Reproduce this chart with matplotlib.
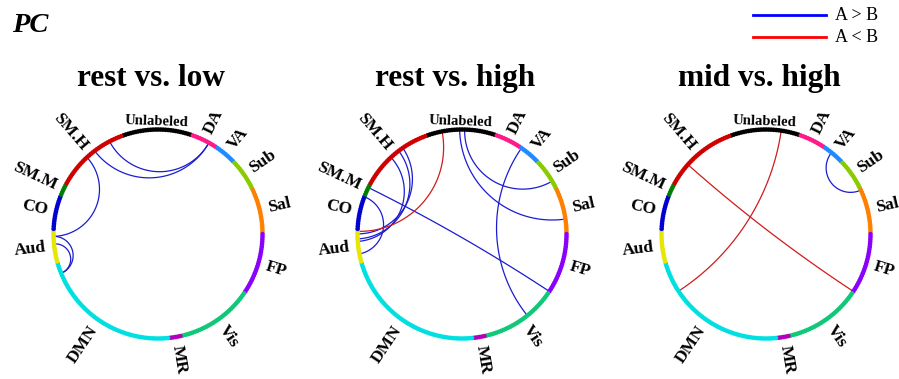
import numpy as np
import matplotlib.pyplot as plt
from matplotlib.lines import Line2D

plt.rcParams['font.family'] = ['Liberation Serif', 'DejaVu Serif']

# network modules (Power atlas order, clockwise from the top)
modules = ["Unlabeled", "DA", "VA", "Sub", "Sal", "FP", "Vis", "MR", "DMN",
           "Aud", "CO", "SM.M", "SM.H"]
sizes = [28, 11, 9, 13, 18, 25, 31, 5, 58, 13, 14, 5, 30]
mod_colors = ["#000000", "#ff1a8c", "#1e8cff", "#88cc00", "#ff8000", "#8a00ff",
              "#10c878", "#b000c0", "#00e0e0", "#e6e600", "#0000d0", "#008000",
              "#d00000"]

titles = ["rest vs. low", "rest vs. high", "mid vs. high"]

# significant edges as (node, node), A > B and A < B
pos_edges = [
    [(35, 254), (35, 247), (208, 243), (208, 193), (205, 193)],
    [(249, 209), (247, 207), (243, 206), (224, 201), (228, 103),
     (13, 73), (15, 57), (39, 116)],
    [(42, 61)],
]
neg_edges = [
    [],
    [(6, 210)],
    [(20, 185), (239, 103)],
]

n_nodes = sum(sizes)
step = 360.0 / n_nodes
start = 110.0
node_ang = start - (np.arange(n_nodes) + 0.5) * step
node_col = np.repeat(mod_colors, sizes)
bounds = np.concatenate([[0], np.cumsum(sizes)])

W, H = 899, 379
R_PX = 104.5
L = 1.4
centers = [(158, 234), (462, 234), (766, 234)]

fig = plt.figure(figsize=(W / 100, H / 100), dpi=100)


def chord(a, b):
    # arc orthogonal to the unit circle between two node angles
    a, b = np.radians(a), np.radians(b)
    d = (b - a + np.pi) % (2 * np.pi) - np.pi
    p1 = np.array([np.cos(a), np.sin(a)])
    p2 = np.array([np.cos(b), np.sin(b)])
    if abs(abs(d) - np.pi) < 0.08:
        return np.array([p1[0], p2[0]]), np.array([p1[1], p2[1]])
    m = a + d / 2
    c = np.array([np.cos(m), np.sin(m)]) / np.cos(d / 2)
    rad = abs(np.tan(d / 2))
    f1 = np.arctan2(*(p1 - c)[::-1])
    f2 = np.arctan2(*(p2 - c)[::-1])
    df = (f2 - f1 + np.pi) % (2 * np.pi) - np.pi
    f = f1 + df * np.linspace(0, 1, 120)
    return c[0] + rad * np.cos(f), c[1] + rad * np.sin(f)


for k, (cx, cy) in enumerate(centers):
    half = L * R_PX
    ax = fig.add_axes([(cx - half) / W, (H - cy - half) / H, 2 * half / W, 2 * half / H])
    ax.set_xlim(-L, L)
    ax.set_ylim(-L, L)
    ax.axis("off")
    ax.patch.set_alpha(0)

    for edges, col in [(pos_edges[k], "#1c1cd0"), (neg_edges[k], "#d01c1c")]:
        for i, j in edges:
            x, y = chord(node_ang[i], node_ang[j])
            ax.plot(x, y, color=col, lw=0.9, clip_on=False)

    t = np.radians(node_ang)
    ax.scatter(np.cos(t), np.sin(t), s=11, c=node_col, linewidths=0, clip_on=False, zorder=3)

    for name, lo, hi in zip(modules, bounds[:-1], bounds[1:]):
        th = start - (lo + hi) / 2 * step
        th = (th + 180) % 360 - 180
        tr = np.radians(th)
        if name == "Unlabeled":
            ax.text(1.03 * np.cos(tr), 1.03 * np.sin(tr), name, rotation=-2,
                    ha="center", va="baseline", fontsize=10.5, fontweight="bold")
            continue
        if -90 <= th <= 90:
            rot, ha = th, "left"
        else:
            rot, ha = th - 180 if th > 0 else th + 180, "right"
        ax.text(1.08 * np.cos(tr), 1.08 * np.sin(tr), name, rotation=rot,
                rotation_mode="anchor", ha=ha, va="center", fontsize=12.5,
                fontweight="bold", clip_on=False)

    fig.text((cx - 7) / W, 1 - 86 / H, titles[k], ha="center", va="baseline",
             fontsize=22.5, fontweight="bold")

fig.text(12 / W, 1 - 32 / H, "PC", ha="left", va="baseline", fontsize=20.5,
         fontweight="bold", style="italic")

# legend
for yy, col, lab in [(15, "#0000ff", "A > B"), (37, "#ff0000", "A < B")]:
    fig.add_artist(Line2D([753 / W, 826 / W], [1 - yy / H, 1 - yy / H], color=col,
                          lw=2, transform=fig.transFigure))
    fig.text(835 / W, 1 - yy / H, lab, ha="left", va="center", fontsize=13)

fig.savefig("out.png", dpi=100)
